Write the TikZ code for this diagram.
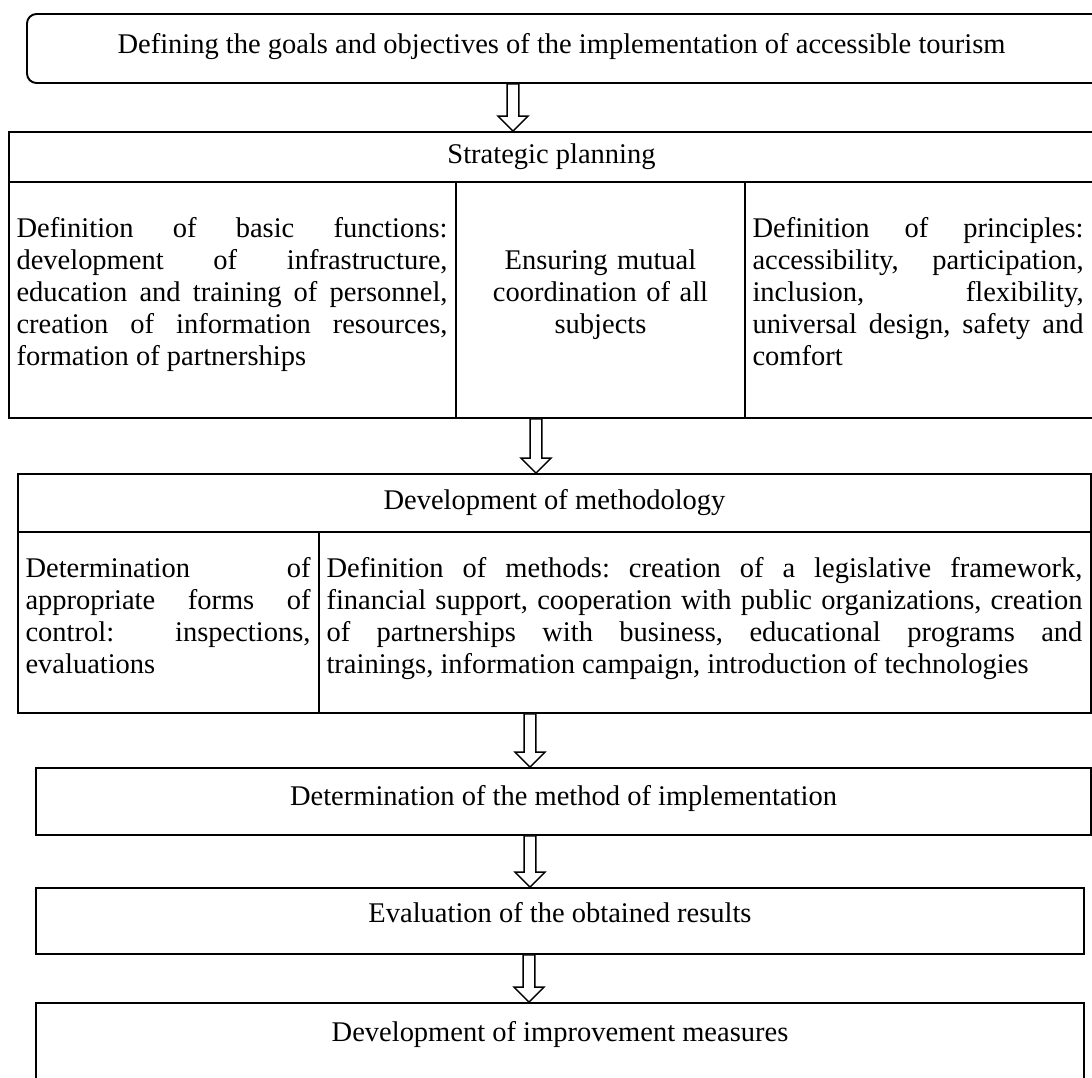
\documentclass[tikz,border=0pt]{standalone}
\usepackage{fontspec}
\setmainfont{Liberation Serif}
\usetikzlibrary{positioning,fit,calc}
\hyphenpenalty=10000
\tolerance=10000
\frenchspacing

\tikzset{
  box/.style={draw, line width=0.8pt, inner sep=0pt},
  celltext/.style={inner sep=0pt, align=justify, anchor=north west},
  hollow/.style={draw, fill=white, line width=0.6pt, line join=miter},
}

% hollow block arrow from #1 (bottom) to #2 (top) at x = #3
\newcommand{\flowarrow}[3]{%
  \draw[hollow] let \p1=(#3,0 |- #1.south), \p2=(#3,0 |- #2.north) in
    (\x1-2.5pt,\y1) -- (\x1-2.5pt,\y2+6.3pt) -- (\x1-6.3pt,\y2+6.3pt) -- (\x1,\y2)
    -- (\x1+6.3pt,\y2+6.3pt) -- (\x1+2.5pt,\y2+6.3pt) -- (\x1+2.5pt,\y1) -- cycle;}

\begin{document}
\begin{tikzpicture}[x=0.4211pt, y=-0.4211pt, font=\fontsize{12}{13.5}\selectfont]
\clip (0,0) rectangle (1092,1077);

\node[box, rounded corners=4pt, fit={(27,14) (1104,83)}] (goals) {};
\node[anchor=base] (goalstext) at ([shift={(-4,40)}]goals.north)
  {Defining the goals and objectives of the implementation of accessible tourism};

% strategic planning
\node[box, fit={(9,132) (1094,182)}] (strat) {};
\node[box, fit={(9,182) (456,418)}] (stratL) {};
\node[box, fit={(456,182) (745,418)}] (stratM) {};
\node[box, fit={(745,182) (1094,418)}] (stratR) {};

\node[anchor=base] (strattext) at ([shift={(0,32)}]strat.north) {Strategic planning};
\node[celltext, text width=181.5pt] (stratLtext) at ([shift={(8,36)}]stratL.north west)
  {Definition of basic functions:\linebreak development of infrastructure,\linebreak education and training of personnel,\linebreak creation of information resources,\linebreak formation of partnerships};
\node[inner sep=0pt, align=center, text width=115pt, anchor=north] (stratMtext) at ([shift={(0,68)}]stratM.north)
  {Ensuring mutual\\ coordination of all\\ subjects};
\node[celltext, text width=139.4pt] (stratRtext) at ([shift={(8,36)}]stratR.north west)
  {Definition of principles:\linebreak accessibility, participation,\linebreak inclusion, flexibility,\linebreak universal design, safety and\linebreak comfort};

% methodology
\node[box, fit={(18,474) (1091,532)}] (method) {};
\node[box, fit={(18,532) (319,713)}] (methL) {};
\node[box, fit={(319,532) (1091,713)}] (methR) {};

\node[anchor=base] (methodtext) at ([shift={(0,36)}]method.north) {Development of methodology};
\node[celltext, text width=120pt] (methLtext) at ([shift={(8,26)}]methL.north west)
  {Determination of\linebreak appropriate forms of\linebreak control: inspections,\linebreak evaluations};
\node[celltext, text width=318.3pt] (methRtext) at ([shift={(8,26)}]methR.north west)
  {Definition of methods: creation of a legislative framework,\linebreak financial support, cooperation with public organizations, creation\linebreak of partnerships with business, educational programs and\linebreak trainings, information campaign, introduction of technologies};

% remaining steps
\node[box, fit={(36,768) (1091,835)}] (impl) {};
\node[box, fit={(36,888) (1084,954)}] (eval) {};
\node[box, fit={(36,1003) (1084,1110)}] (improve) {};

\node[anchor=base] (impltext) at ([shift={(0,38)}]impl.north) {Determination of the method of implementation};
\node[anchor=base] (evaltext) at ([shift={(0,35)}]eval.north) {Evaluation of the obtained results};
\node[anchor=base] (improvetext) at ([shift={(0,39)}]improve.north) {Development of improvement measures};

\flowarrow{goals}{strat}{513}
\flowarrow{stratM}{method}{536}
\flowarrow{methR}{impl}{530}
\flowarrow{impl}{eval}{530}
\flowarrow{eval}{improve}{529}

\end{tikzpicture}
\end{document}
